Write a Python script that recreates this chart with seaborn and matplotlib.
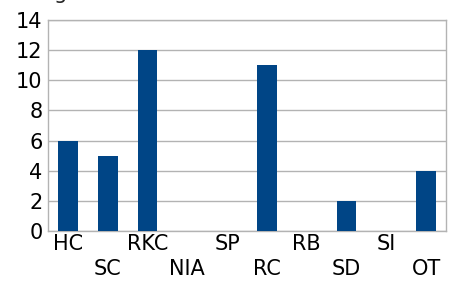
import matplotlib
matplotlib.use("Agg")
import matplotlib.pyplot as plt
import pandas as pd
import seaborn as sns

CATEGORIES = ["HC", "SC", "RKC", "NIA", "SP", "RC", "RB", "SD", "SI", "OT"]
COUNTS = [6, 5, 12, 0, 0, 11, 0, 2, 0, 4]
Y_TICKS = [0, 2, 4, 6, 8, 10, 12, 14]

BAR_COLOR = "#004586"
GRID_COLOR = "#b3b3b3"
FONT_SIZE = 15

sns.set_theme(style="white")
plt.rcParams["font.family"] = ["DejaVu Sans"]
plt.rcParams["font.size"] = FONT_SIZE

df = pd.DataFrame({"cat": CATEGORIES, "n": COUNTS})

fig = plt.figure(figsize=(4.5, 2.84), dpi=100)
ax = fig.add_axes([48 / 450, 1 - 231 / 284, 398 / 450, 211 / 284])

sns.barplot(data=df, x="cat", y="n", color=BAR_COLOR, width=0.5,
            saturation=1, linewidth=0, ax=ax, zorder=3)

ax.set_ylim(0, 14)
ax.set_yticks(Y_TICKS)
ax.set_xlim(-0.5, len(CATEGORIES) - 0.5)
ax.yaxis.grid(True, color=GRID_COLOR, linewidth=1, zorder=0)
ax.set_axisbelow(True)
for s in ax.spines.values():
    s.set_color(GRID_COLOR)
    s.set_linewidth(1)

ax.set_xlabel("")
ax.set_ylabel("")
ax.tick_params(axis="both", length=0, labelsize=FONT_SIZE, colors="black")
ax.tick_params(axis="y", pad=4)
for i, t in enumerate(ax.xaxis.get_major_ticks()):
    t.set_pad(2 if i % 2 == 0 else 20)

# title cut off at the top edge in the original
fig.text(54 / 450, 1 + 1 / 284, "g", fontsize=FONT_SIZE, va="baseline", ha="left")

fig.savefig("out.png", dpi=100)
